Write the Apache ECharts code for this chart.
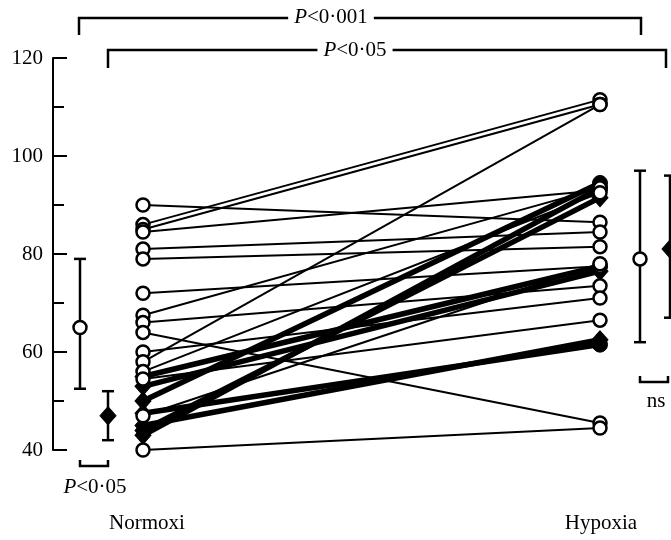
<!DOCTYPE html>
<html>
<head>
<meta charset="utf-8">
<script src="https://cdn.jsdelivr.net/npm/echarts@6/dist/echarts.min.js"></script>
<style>
  html, body { margin: 0; padding: 0; background: #fff; }
  #chart { width: 671px; height: 540px; }
</style>
</head>
<body>
<div id="chart"></div>
<script>
// x positions in axis units (0..618 across the grid)
const X_NORM = 90, X_HYP = 547;
const X_MEAN = [27, 55, 587, 617]; // norm open, norm filled, hyp open, hyp filled

const groupLabels = ['Normoxi', 'Hypoxia'];

// thin lines, open circles
const normOpen = [90, 86, 85, 84.5, 81, 79, 72, 67.5, 66, 64, 60, 58, 56, 54.5, 47, 40];
const hypOpen  = [86.5, 111.5, 110.5, 93, 84.5, 81.5, 77.5, 93.5, 73.5, 45.5, 71, 110.5, 92.5, 66.5, 78, 44.5];

// thick lines, filled markers (A: filled circle at hypoxia, B: diamond at hypoxia)
const normThickA = [43, 50, 55, 47.5];
const hypThickA  = [93.5, 94.5, 77.5, 61.5];
const normThickB = [44, 53, 45];
const hypThickB  = [91.5, 76.5, 62.5];

// mean, low, high
const normOpenMean = [65, 52.5, 79];
const normFillMean = [47, 42, 52];
const hypOpenMean  = [79, 62, 97];
const hypFillMean  = [81, 67, 96];

const FONT = 'Liberation Serif';

function pairs(a, b) {
  return a.map((v, i) => ({ coords: [[X_NORM, v], [X_HYP, b[i]]] }));
}

const openStyle = { color: '#fff', borderColor: '#000', borderWidth: 2.5, opacity: 1 };
const fillStyle = { color: '#000', borderColor: '#000', borderWidth: 1, opacity: 1 };

const meanData = [
  [X_MEAN[0]].concat(normOpenMean),
  [X_MEAN[1]].concat(normFillMean),
  [X_MEAN[2]].concat(hypOpenMean),
  [X_MEAN[3]].concat(hypFillMean)
];

const chart = echarts.init(document.getElementById('chart'));

const option = {
  animation: false,
  grid: { left: 53, right: 0, top: 58, bottom: 90 },
  xAxis: { type: 'value', min: 0, max: 618, show: false },
  yAxis: {
    type: 'value',
    min: 40,
    max: 120,
    interval: 20,
    axisLine: { show: true, lineStyle: { color: '#000', width: 2 } },
    axisTick: { show: true, inside: true, length: 14, lineStyle: { color: '#000', width: 2 } },
    minorTick: { show: true, splitNumber: 2, length: 11, lineStyle: { color: '#000', width: 2 } },
    splitLine: { show: false },
    axisLabel: { color: '#000', fontFamily: FONT, fontSize: 21, margin: 10 }
  },
  series: [
    {
      type: 'lines',
      coordinateSystem: 'cartesian2d',
      lineStyle: { color: '#000', width: 2, opacity: 1 },
      data: pairs(normOpen, hypOpen),
      z: 1
    },
    {
      type: 'lines',
      coordinateSystem: 'cartesian2d',
      lineStyle: { color: '#000', width: 5.5, opacity: 1 },
      data: pairs(normThickA, hypThickA).concat(pairs(normThickB, hypThickB)),
      z: 2
    },
    {
      // error bars
      type: 'custom',
      renderItem: function (params, api) {
        const x = api.value(0);
        const lo = api.coord([x, api.value(2)]);
        const hi = api.coord([x, api.value(3)]);
        const hw = 6;
        const st = { stroke: '#000', lineWidth: 2.5 };
        return {
          type: 'group',
          children: [
            { type: 'line', shape: { x1: lo[0], y1: lo[1], x2: hi[0], y2: hi[1] }, style: st },
            { type: 'line', shape: { x1: lo[0] - hw, y1: lo[1], x2: lo[0] + hw, y2: lo[1] }, style: st },
            { type: 'line', shape: { x1: hi[0] - hw, y1: hi[1], x2: hi[0] + hw, y2: hi[1] }, style: st }
          ]
        };
      },
      encode: { x: 0, y: 1 },
      data: meanData,
      z: 3
    },
    {
      type: 'scatter', symbol: 'diamond', symbolSize: [16, 18],
      itemStyle: fillStyle,
      data: normThickA.concat(normThickB).map(v => [X_NORM, v]).concat([[X_MEAN[1], normFillMean[0]], [X_MEAN[3], hypFillMean[0]]]),
      z: 4
    },
    {
      type: 'scatter', symbol: 'diamond', symbolSize: [16, 18],
      itemStyle: fillStyle,
      data: hypThickB.map(v => [X_HYP, v]),
      z: 4
    },
    {
      type: 'scatter', symbol: 'circle', symbolSize: 15,
      itemStyle: fillStyle,
      data: hypThickA.map(v => [X_HYP, v]),
      z: 4
    },
    {
      type: 'scatter', symbol: 'circle', symbolSize: 13,
      itemStyle: openStyle,
      data: normOpen.map(v => [X_NORM, v]).concat(hypOpen.map(v => [X_HYP, v]))
        .concat([[X_MEAN[0], normOpenMean[0]], [X_MEAN[2], hypOpenMean[0]]]),
      z: 5
    }
  ]
};
chart.setOption(option);

// annotations: brackets and labels
const px = x => chart.convertToPixel({ xAxisIndex: 0 }, x);
const FS = 21;
const txt = { fontFamily: FONT, fontSize: FS, fill: '#000' };
const rich = { i: { fontStyle: 'italic', fontFamily: FONT, fontSize: FS } };

function bracketDown(x1, x2, y, drop) {
  return {
    type: 'polyline',
    shape: { points: [[x1, y + drop], [x1, y], [x2, y], [x2, y + drop]] },
    style: { stroke: '#000', lineWidth: 2.5, fill: null }
  };
}
function bracketUp(x1, x2, y, rise) {
  return {
    type: 'polyline',
    shape: { points: [[x1, y - rise], [x1, y], [x2, y], [x2, y - rise]] },
    style: { stroke: '#000', lineWidth: 2.5, fill: null }
  };
}
function label(text, x, y) {
  return {
    type: 'text', x: x, y: y,
    style: Object.assign({ text: text, rich: rich, align: 'center', verticalAlign: 'middle', backgroundColor: '#fff', padding: [0, 6] }, txt),
    z: 10
  };
}

const xo1 = px(X_MEAN[0]) - 1, xo2 = px(X_MEAN[2]) + 1;
const xf1 = px(X_MEAN[1]), xf2 = px(X_MEAN[3]) - 4;

chart.setOption({
  graphic: [
    bracketDown(xo1, xo2, 18, 17),
    label('{i|P}<0·001', 331, 17),
    bracketDown(xf1, xf2, 50, 18),
    label('{i|P}<0·05', 355, 50),
    bracketUp(px(X_MEAN[0]), px(X_MEAN[1]), 466, 6),
    label('{i|P}<0·05', 95, 487),
    bracketUp(px(X_MEAN[2]), px(X_MEAN[3]) - 2, 382, 6),
    label('ns', 656, 401),
    label(groupLabels[0], px(X_NORM) + 4, 523),
    label(groupLabels[1], px(X_HYP) + 1, 523)
  ]
});
</script>
</body>
</html>
